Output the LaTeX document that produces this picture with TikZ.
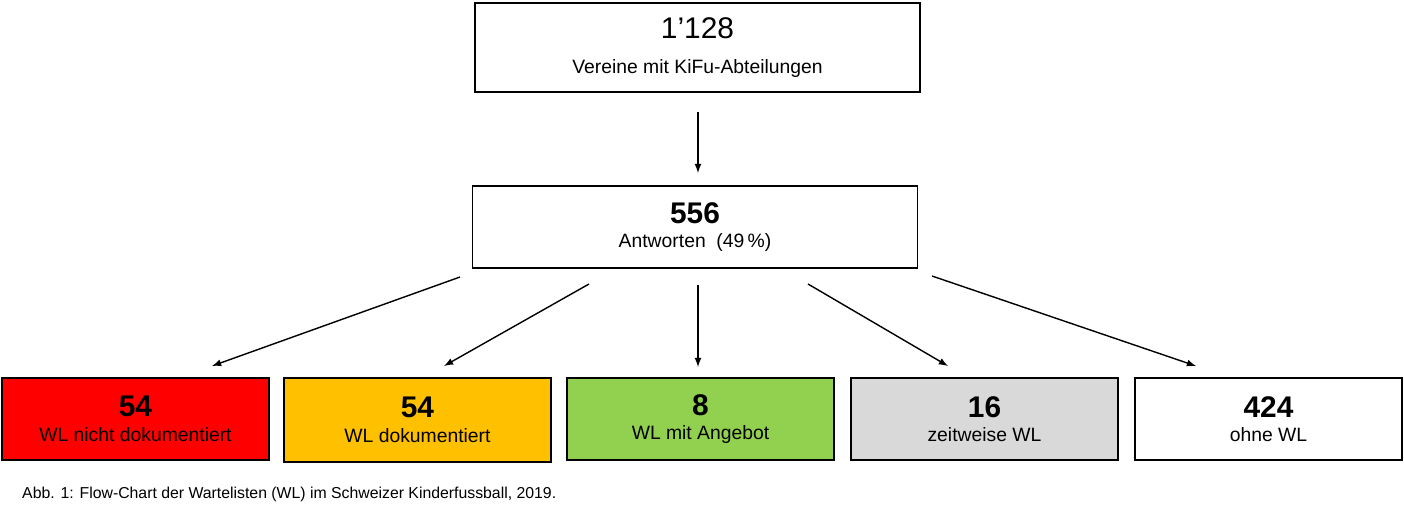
\documentclass[tikz,border=0pt]{standalone}
\usepackage{fontspec}
\setmainfont{Liberation Sans}
\definecolor{wlred}{HTML}{FF0000}
\definecolor{wlorange}{HTML}{FFC000}
\definecolor{wlgreen}{HTML}{92D050}
\definecolor{wlgrey}{HTML}{D9D9D9}
\begin{document}
\begin{tikzpicture}[x=0.02cm,y=-0.02cm]
% Definition der Stile
\tikzset{
  box/.style={rectangle, draw, line width=0.9pt, align=center, inner sep=0pt},
  topbox/.style={box, minimum width=445*0.02cm, minimum height=89*0.02cm},
  catbox/.style={box, minimum width=267*0.02cm, minimum height=82*0.02cm},
  arr/.style={-latex, line width=0.8pt}
}
\useasboundingbox (0,0) rectangle (1404,521);

% Vereine und Antworten
\node[topbox] (vereine) at (697.5,47.5) {\fontsize{17}{20}\selectfont 1'128\\[8pt]\fontsize{11}{13}\selectfont Vereine mit KiFu-Abteilungen};
\node[topbox, minimum height=82*0.02cm] (antworten) at (695,227) {\fontsize{17}{20}\selectfont\bfseries 556\\[2pt]\fontsize{11}{13}\selectfont Antworten~~(49\,\%)};

% Kategorien
\node[catbox, fill=wlred] (nichtdok) at (135.5,419) {\fontsize{17}{20}\selectfont\bfseries 54\\[2pt]\fontsize{11}{13}\selectfont WL nicht dokumentiert};
\node[catbox, fill=wlorange, minimum height=84*0.02cm] (dok) at (417.5,420) {\fontsize{17}{20}\selectfont\bfseries 54\\[2pt]\fontsize{11}{13}\selectfont WL dokumentiert};
\node[catbox, fill=wlgreen] (angebot) at (700.5,419) {\fontsize{17}{20}\selectfont\bfseries 8\\[2pt]\fontsize{11}{13}\selectfont WL mit Angebot};
\node[catbox, fill=wlgrey] (zeitweise) at (984.5,419) {\fontsize{17}{20}\selectfont\bfseries 16\\[2pt]\fontsize{11}{13}\selectfont zeitweise WL};
\node[catbox] (ohne) at (1268.5,419) {\fontsize{17}{20}\selectfont\bfseries 424\\[2pt]\fontsize{11}{13}\selectfont ohne WL};

% Pfeilenden
\coordinate (a1) at (698,112); \coordinate (a2) at (698,173);
\coordinate (s1) at (460,277); \coordinate (e1) at (212,366);
\coordinate (s2) at (589,284); \coordinate (e2) at (444,366);
\coordinate (s3) at (698,285); \coordinate (e3) at (698,367);
\coordinate (s4) at (808,284); \coordinate (e4) at (948,366);
\coordinate (s5) at (932,276); \coordinate (e5) at (1196,366);

% Pfeile
\draw[arr] (a1) -- (a2);
\foreach \i in {1,...,5}
  \draw[arr] (s\i) -- (e\i);

% Legende
\node[anchor=west, font=\fontsize{9}{11}\selectfont] (legende) at (16,494) {Abb. 1: Flow-Chart der Wartelisten (WL) im Schweizer Kinderfussball, 2019.};
\end{tikzpicture}
\end{document}
